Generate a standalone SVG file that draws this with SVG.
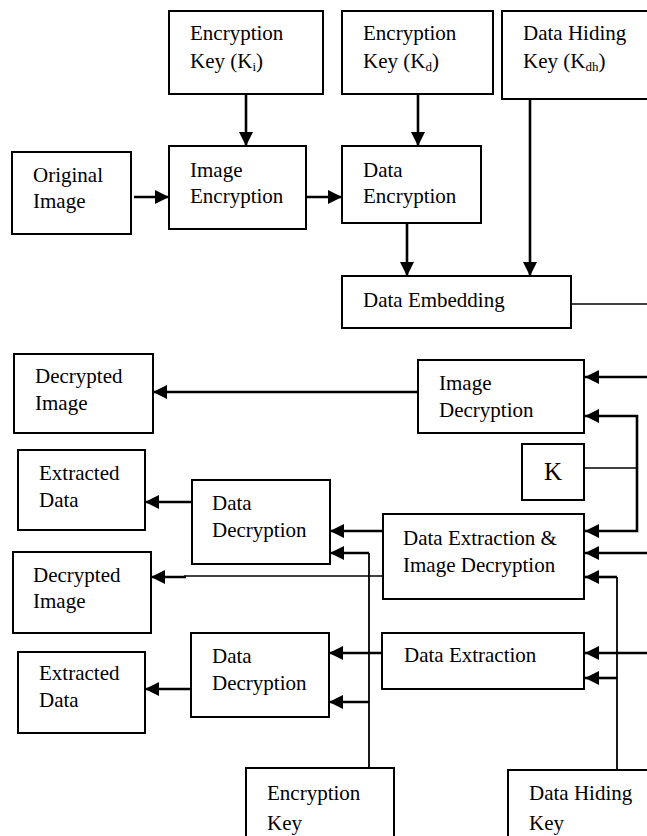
<svg xmlns="http://www.w3.org/2000/svg" width="647" height="836" viewBox="0 0 647 836">
  <style>
    .box { fill: #ffffff; stroke: #000000; stroke-width: 2; }
    .lbl { font-family: "Liberation Serif", "Times New Roman", serif; font-size: 21px; fill: #000000; }
    .sub { font-size: 13px; }
    .thick { fill: none; stroke: #000000; stroke-width: 2.6; }
    .mid { fill: none; stroke: #000000; stroke-width: 1.8; }
    .thin { fill: none; stroke: #000000; stroke-width: 1.3; }
    .arr { marker-end: url(#head); }
  </style>
  <defs>
    <marker id="head" markerUnits="userSpaceOnUse" markerWidth="14" markerHeight="14" refX="14" refY="7" orient="auto">
      <path d="M0,0 L14,7 L0,14 Z" fill="#000000"/>
    </marker>
  </defs>
  <rect x="0" y="0" width="647" height="836" fill="#ffffff"/>

  <!-- encryption side -->
  <g id="key-ki">
    <rect class="box" x="169" y="11" width="154" height="83"/>
    <text class="lbl" x="190" y="40">Encryption</text>
    <text class="lbl" x="190" y="68">Key (K<tspan class="sub" dy="3">i</tspan><tspan dy="-3">)</tspan></text>
  </g>
  <g id="key-kd">
    <rect class="box" x="342" y="11" width="151" height="83"/>
    <text class="lbl" x="363" y="40">Encryption</text>
    <text class="lbl" x="363" y="68">Key (K<tspan class="sub" dy="3">d</tspan><tspan dy="-3">)</tspan></text>
  </g>
  <g id="key-kdh">
    <rect class="box" x="502" y="11" width="160" height="88"/>
    <text class="lbl" x="523" y="40">Data Hiding</text>
    <text class="lbl" x="523" y="68">Key (K<tspan class="sub" dy="3">dh</tspan><tspan dy="-3">)</tspan></text>
  </g>
  <g id="original-image">
    <rect class="box" x="12" y="152" width="119" height="82"/>
    <text class="lbl" x="33" y="182">Original</text>
    <text class="lbl" x="33" y="208">Image</text>
  </g>
  <g id="image-encryption">
    <rect class="box" x="169" y="146" width="137" height="83"/>
    <text class="lbl" x="190" y="177">Image</text>
    <text class="lbl" x="190" y="203">Encryption</text>
  </g>
  <g id="data-encryption">
    <rect class="box" x="342" y="146" width="139" height="77"/>
    <text class="lbl" x="363" y="177">Data</text>
    <text class="lbl" x="363" y="203">Encryption</text>
  </g>
  <g id="data-embedding">
    <rect class="box" x="342" y="276" width="229" height="52"/>
    <text class="lbl" x="363" y="307">Data Embedding</text>
  </g>

  <!-- receiver side -->
  <g id="image-decryption">
    <rect class="box" x="418" y="360" width="166" height="73"/>
    <text class="lbl" x="439" y="390">Image</text>
    <text class="lbl" x="439" y="417">Decryption</text>
  </g>
  <g id="key-k">
    <rect class="box" x="522" y="444" width="62" height="56"/>
    <text class="lbl" x="553" y="480" text-anchor="middle" style="font-size:25px">K</text>
  </g>
  <g id="extract-and-decrypt">
    <rect class="box" x="383" y="514" width="201" height="85"/>
    <text class="lbl" x="403" y="545">Data Extraction &amp;</text>
    <text class="lbl" x="403" y="572">Image Decryption</text>
  </g>
  <g id="data-extraction">
    <rect class="box" x="382" y="633" width="202" height="56"/>
    <text class="lbl" x="404" y="662">Data Extraction</text>
  </g>
  <g id="data-decryption-1">
    <rect class="box" x="192" y="480" width="138" height="84"/>
    <text class="lbl" x="212" y="510">Data</text>
    <text class="lbl" x="212" y="537">Decryption</text>
  </g>
  <g id="data-decryption-2">
    <rect class="box" x="191" y="633" width="138" height="84"/>
    <text class="lbl" x="212" y="663">Data</text>
    <text class="lbl" x="212" y="690">Decryption</text>
  </g>
  <g id="decrypted-image-1">
    <rect class="box" x="14" y="354" width="139" height="79"/>
    <text class="lbl" x="35" y="383">Decrypted</text>
    <text class="lbl" x="35" y="410">Image</text>
  </g>
  <g id="extracted-data-1">
    <rect class="box" x="18" y="450" width="127" height="80"/>
    <text class="lbl" x="39" y="480">Extracted</text>
    <text class="lbl" x="39" y="507">Data</text>
  </g>
  <g id="decrypted-image-2">
    <rect class="box" x="13" y="552" width="138" height="81"/>
    <text class="lbl" x="33" y="582">Decrypted</text>
    <text class="lbl" x="33" y="608">Image</text>
  </g>
  <g id="extracted-data-2">
    <rect class="box" x="18" y="652" width="127" height="81"/>
    <text class="lbl" x="39" y="680">Extracted</text>
    <text class="lbl" x="39" y="707">Data</text>
  </g>
  <g id="encryption-key">
    <rect class="box" x="246" y="768" width="148" height="90"/>
    <text class="lbl" x="267" y="800">Encryption</text>
    <text class="lbl" x="267" y="830">Key</text>
  </g>
  <g id="data-hiding-key">
    <rect class="box" x="508" y="770" width="160" height="90"/>
    <text class="lbl" x="529" y="800">Data Hiding</text>
    <text class="lbl" x="529" y="830">Key</text>
  </g>

  <g id="connectors">
    <!-- embedding path -->
    <path class="thick arr" d="M246,94 V146"/>
    <path class="thick arr" d="M418,94 V146"/>
    <path class="thick arr" d="M134,197 H169"/>
    <path class="thick arr" d="M306,197 H342"/>
    <path class="thick arr" d="M407,223 V276"/>
    <path class="thick arr" d="M530,99 V276"/>
    <path class="thin" d="M571,304 H647"/>

    <!-- inputs on the right -->
    <path class="thick arr" d="M647,377 H585"/>
    <path class="thick arr" d="M637,468 V416 H585"/>
    <path class="thick arr" d="M637,468 V531 H585"/>
    <path class="thin" d="M584,468 H637"/>
    <path class="thick arr" d="M647,553 H585"/>
    <path class="mid" d="M617,770 V577"/>
    <path class="thick arr" d="M617,577 H585"/>
    <path class="thick arr" d="M647,653 H585"/>
    <path class="thick arr" d="M617,678 H585"/>

    <!-- outputs on the left -->
    <path class="thick arr" d="M418,392 H153"/>
    <path class="thick arr" d="M383,531 H330"/>
    <path class="mid" d="M369,768 V553"/>
    <path class="thick arr" d="M369,553 H330"/>
    <path class="thick arr" d="M369,702 H329"/>
    <path class="thin" d="M383,576 H184"/>
    <path class="thick arr" d="M186,577 H151"/>
    <path class="thick arr" d="M192,502 H145"/>
    <path class="thick arr" d="M382,653 H329"/>
    <path class="thick arr" d="M191,689 H145"/>
  </g>
</svg>
